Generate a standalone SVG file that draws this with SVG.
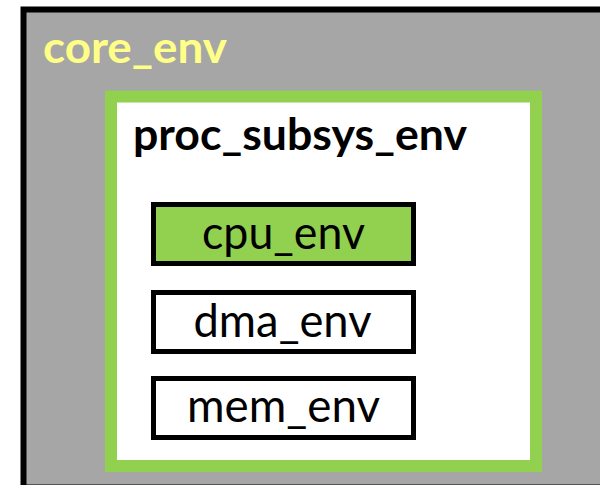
<svg xmlns="http://www.w3.org/2000/svg" width="600" height="485" viewBox="0 0 600 485">
  <style>
    .env-label { font-family: Lato, "Liberation Sans", sans-serif; font-size: 46px; fill: #000; text-anchor: middle; }
    .title { font-family: Lato, "Liberation Sans", sans-serif; font-weight: bold; }
    .leaf { stroke: #000; stroke-width: 5; }
  </style>
  <rect x="0" y="0" width="600" height="485" fill="#ffffff"/>

  <!-- outer environment -->
  <g id="core_env">
    <rect x="23.5" y="9.5" width="600" height="478" fill="#a6a6a6" stroke="#000" stroke-width="6"/>
    <text class="title" x="43" y="63" font-size="43" fill="#ffff88" textLength="184" lengthAdjust="spacingAndGlyphs">core_env</text>
  </g>

  <!-- processor subsystem -->
  <g id="proc_subsys_env">
    <rect x="111" y="96.5" width="425" height="369.5" fill="#ffffff" stroke="#92d050" stroke-width="12"/>
    <text class="title" x="133" y="150" font-size="43" fill="#000" textLength="334" lengthAdjust="spacingAndGlyphs">proc_subsys_env</text>
  </g>

  <g id="cpu_env">
    <rect class="leaf" x="153.5" y="204.5" width="260" height="59" fill="#92d050"/>
    <text class="env-label" x="283.5" y="249" textLength="163" lengthAdjust="spacingAndGlyphs">cpu_env</text>
  </g>

  <g id="dma_env">
    <rect class="leaf" x="153.5" y="292.5" width="260" height="59" fill="#ffffff"/>
    <text class="env-label" x="282.5" y="337" textLength="178" lengthAdjust="spacingAndGlyphs">dma_env</text>
  </g>

  <g id="mem_env">
    <rect class="leaf" x="153.5" y="378.5" width="260" height="59" fill="#ffffff"/>
    <text class="env-label" x="283.5" y="422" textLength="193" lengthAdjust="spacingAndGlyphs">mem_env</text>
  </g>

  <g id="connectors"/>
</svg>
